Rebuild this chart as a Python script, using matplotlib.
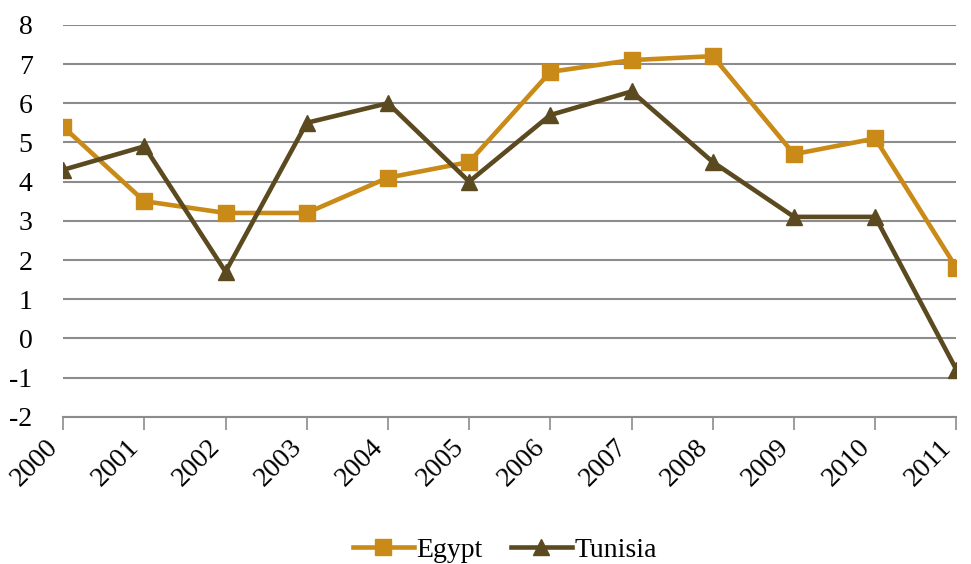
import matplotlib
matplotlib.use("Agg")
import matplotlib.pyplot as plt

# data
years = ["2000", "2001", "2002", "2003", "2004", "2005",
         "2006", "2007", "2008", "2009", "2010", "2011"]
egypt = [5.4, 3.5, 3.2, 3.2, 4.1, 4.5, 6.8, 7.1, 7.2, 4.7, 5.1, 1.8]
tunisia = [4.3, 4.9, 1.7, 5.5, 6.0, 4.0, 5.7, 6.3, 4.5, 3.1, 3.1, -0.8]
yticks = [-2, -1, 0, 1, 2, 3, 4, 5, 6, 7, 8]

plt.rcParams['font.family'] = ['Liberation Serif', 'DejaVu Serif']

fig = plt.figure(figsize=(9.71, 5.64), dpi=100)
ax = fig.add_axes([0.065, 0.261, 0.92, 0.695])

x = list(range(len(years)))
ax.plot(x, egypt, color='#CA8A17', lw=3.3, marker='s', ms=11, label='Egypt', zorder=3)
ax.plot(x, tunisia, color='#5B4A1F', lw=3.3, marker='^', ms=12, label='Tunisia', zorder=3)

ax.set_xlim(0, len(years) - 1)
ax.set_ylim(-2, 8)
ax.set_yticks(yticks)
ax.set_yticklabels([str(v) for v in yticks], fontsize=20)
ax.set_xticks(x)
# default rotation mode: right edge of the rotated box sits on the tick
ax.set_xticklabels(years, fontsize=20, rotation=45, ha='right', va='top')

ax.grid(axis='y', color='#8c8c8c', lw=1.5)
ax.set_axisbelow(True)
for s in ['left', 'right', 'top']:
    ax.spines[s].set_visible(False)
ax.spines['bottom'].set_color('#8c8c8c')
ax.spines['bottom'].set_linewidth(1.5)
ax.tick_params(axis='y', length=0, pad=22)
ax.tick_params(axis='x', length=9, width=1.2, color='#8c8c8c', pad=4)

fig.legend(loc='center', bbox_to_anchor=(0.52, 0.025), ncol=2, frameon=False,
           fontsize=20, handlelength=2.2, handletextpad=0.1, columnspacing=1.0)

fig.savefig('out.png', dpi=100)
